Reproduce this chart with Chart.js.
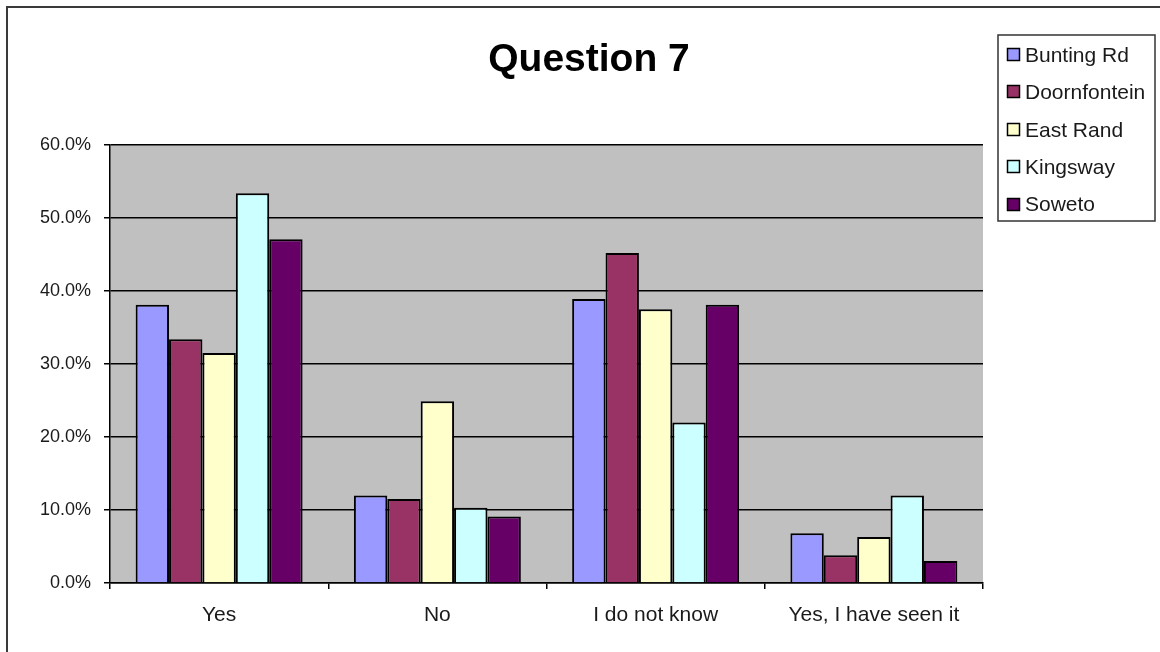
<!DOCTYPE html>
<html lang="en">
<head>
<meta charset="UTF-8" />
<title>Question 7</title>
<script src="https://cdn.jsdelivr.net/npm/chart.js@4.4.1/dist/chart.umd.min.js"></script>
<style>
html,body{margin:0;padding:0;background:#fff}
.wrap{width:1160px;height:652px;position:relative;overflow:hidden}
#q7{display:block}
</style>
</head>
<body>
<div class="wrap"><canvas id="q7" width="1160" height="652"></canvas></div>

<script>
/* ── data ───────────────────────────────────────────────────────── */
const categories   = ['Yes', 'No', 'I do not know', 'Yes, I have seen it'];
const buntingRd    = [38.1, 12.0, 38.9, 6.8];
const doornfontein = [33.4, 11.5, 45.2, 3.8];
const eastRand     = [31.5, 24.9, 37.5, 6.3];
const kingsway     = [53.4, 10.3, 22.0, 12.0];
const soweto       = [47.1, 9.1, 38.1, 3.0];
const yTicks       = [0, 10, 20, 30, 40, 50, 60];

const FONT = 'Arial, "Liberation Sans", sans-serif';

/* ── frame, plot background, title and legend box ──────────────── */
const excelLook = {
  id: 'excelLook',
  beforeDraw(chart){
    const {ctx, chartArea:a} = chart;
    ctx.save();
    ctx.fillStyle = '#c0c0c0';
    ctx.fillRect(a.left, a.top, a.right - a.left, a.bottom - a.top);
    // outer frame, only top and left edges fall inside the canvas
    ctx.strokeStyle = '#3a3a3a';
    ctx.lineWidth = 2;
    ctx.beginPath();
    ctx.moveTo(1160, 7); ctx.lineTo(7, 7); ctx.lineTo(7, 652);
    ctx.stroke();
    ctx.restore();
  },
  afterDraw(chart){
    const {ctx} = chart;
    ctx.save();
    ctx.fillStyle = '#000';
    ctx.font = 'bold 39px ' + FONT;
    ctx.textAlign = 'center';
    ctx.textBaseline = 'alphabetic';
    ctx.fillText('Question 7', 589, 71);

    // legend
    ctx.strokeStyle = '#333';
    ctx.lineWidth = 1.5;
    ctx.fillStyle = '#fff';
    ctx.fillRect(998, 35, 157, 186);
    ctx.strokeRect(998, 35, 157, 186);
    ctx.font = '21px ' + FONT;
    ctx.textAlign = 'left';
    ctx.textBaseline = 'middle';
    chart.data.datasets.forEach((ds, i) => {
      const y = 55 + i * 37.4;
      ctx.fillStyle = ds.backgroundColor;
      ctx.fillRect(1007.5, Math.round(y) - 6.5, 12, 12);
      ctx.strokeStyle = '#000';
      ctx.lineWidth = 1.5;
      ctx.strokeRect(1007.5, Math.round(y) - 6.5, 12, 12);
      ctx.fillStyle = '#1a1a1a';
      ctx.fillText(ds.label, 1025, y + 1);
    });
    ctx.restore();
  }
};

const series = [
  ['Bunting Rd',   buntingRd,    '#9999ff'],
  ['Doornfontein', doornfontein, '#993366'],
  ['East Rand',    eastRand,     '#ffffcc'],
  ['Kingsway',     kingsway,     '#ccffff'],
  ['Soweto',       soweto,       '#660066']
];

new Chart(document.getElementById('q7'), {
  type: 'bar',
  data: {
    labels: categories,
    datasets: series.map(([label, data, color]) => ({
      label, data,
      backgroundColor: color,
      borderColor: '#000',
      borderWidth: 2,
      categoryPercentage: 0.765,
      barPercentage: 1
    }))
  },
  options: {
    responsive: false,
    animation: false,
    layout: {padding: {left: 0, right: 177, top: 145, bottom: 0}},
    plugins: {legend: {display: false}, title: {display: false}, tooltip: {enabled: false}},
    scales: {
      x: {
        afterFit: s => { s.height = 69; },
        grid: {offset: true, drawOnChartArea: false, drawTicks: true, tickLength: 6, color: '#000', lineWidth: 1.5},
        border: {color: '#000', width: 1.5},
        ticks: {color: '#1a1a1a', padding: 14, font: {family: FONT, size: 21}}
      },
      y: {
        min: yTicks[0],
        max: yTicks[yTicks.length - 1],
        afterFit: s => { s.width = 110; },
        afterBuildTicks: s => { s.ticks = yTicks.map(v => ({value: v})); },
        grid: {color: '#000', tickLength: 6, lineWidth: 1.5},
        border: {color: '#000', width: 1.5},
        ticks: {color: '#1a1a1a', padding: 13, font: {family: FONT, size: 18},
                callback: v => v.toFixed(1) + '%'}
      }
    }
  },
  plugins: [excelLook]
});
</script>
</body>
</html>
